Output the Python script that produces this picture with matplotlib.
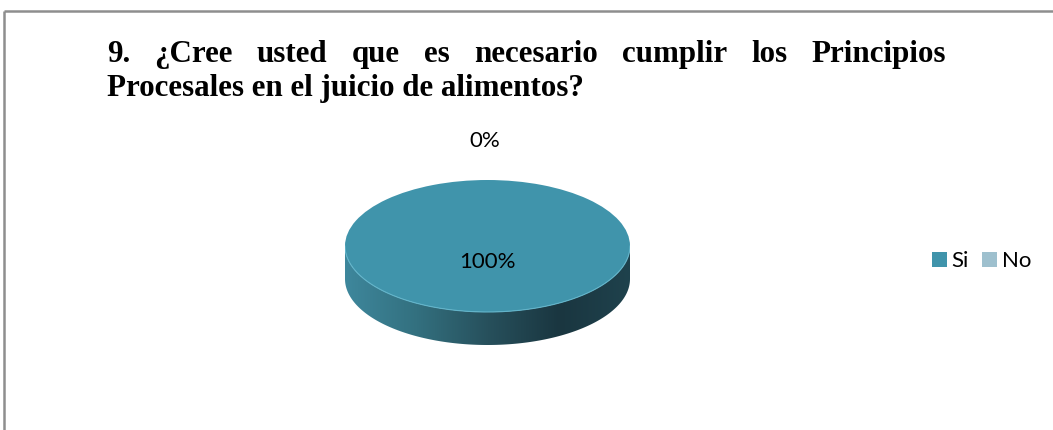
import matplotlib
matplotlib.use("Agg")
import matplotlib.pyplot as plt
from matplotlib.colors import LinearSegmentedColormap
from matplotlib.patches import Polygon
import numpy as np

# Data
labels = ["Si", "No"]
values = [100, 0]
pct_text = ["100%", "0%"]
title_lines = ["9. ¿Cree usted que es necesario cumplir los Principios",
               "Procesales en el juicio de alimentos?"]

# Styles
W, H = 1053, 430
top_color = "#4094AB"
no_color = "#9EC0CE"
border = "#8E8E8E"
side_cmap = LinearSegmentedColormap.from_list(
    "side", ["#3E879C", "#33707F", "#27505C", "#1A3640", "#1F424D"])
label_font = ["Lato", "DejaVu Sans"]

fig = plt.figure(figsize=(W / 100, H / 100), dpi=100)
ax = fig.add_axes([0, 0, 1, 1])
ax.set_xlim(0, W)
ax.set_ylim(H, 0)
ax.axis("off")

# chart frame
ax.plot([4, W], [11, 11], color=border, lw=1.8, solid_capstyle="butt")
ax.plot([4, 4], [11, H], color=border, lw=1.8, solid_capstyle="butt")

# title, first line justified
renderer = fig.canvas.get_renderer()
tkw = dict(family="Liberation Serif", weight="bold", fontsize=22.3, va="baseline")
x_left, x_right = 107, 946
words = title_lines[0].split(" ")
objs = [ax.text(0, 0, w, **tkw) for w in words]
widths = [o.get_window_extent(renderer).width for o in objs]
gap = (x_right - x_left - sum(widths)) / (len(words) - 1)
xx = x_left
for o, w in zip(objs, widths):
    o.set_position((xx, 62))
    xx += w + gap
ax.text(x_left, 96, title_lines[1], **tkw)

# pie: top face is an ellipse, side drawn below
cx0, cx1 = 345, 630
top_y, face_bottom = 180, 312
depth = 33
rx = (cx1 - cx0) / 2
ry = (face_bottom - top_y) / 2
d = depth / ry
ax_pie = fig.add_axes([cx0 / W, (H - face_bottom - depth) / H,
                       (cx1 - cx0) / W, (face_bottom - top_y + depth) / H])
wedges, _ = ax_pie.pie(values, colors=[top_color, no_color], startangle=90,
                       counterclock=False, radius=1,
                       wedgeprops=dict(linewidth=0))
ax_pie.set_aspect("auto")
ax_pie.axis("off")
for w in wedges:
    w.set_zorder(3)

t = np.linspace(np.pi, 2 * np.pi, 200)
side = np.vstack([np.column_stack([np.cos(t), np.sin(t) - d]),
                  np.column_stack([np.cos(t[::-1]), np.sin(t[::-1])])])
side_patch = Polygon(side, closed=True, facecolor="none", edgecolor="none")
ax_pie.add_patch(side_patch)
grad = np.linspace(0, 1, 256).reshape(1, -1)
img = ax_pie.imshow(grad, cmap=side_cmap, extent=(-1, 1, -1 - d, 0),
                    aspect="auto", zorder=2)
img.set_clip_path(side_patch)
ax_pie.set_xlim(-1, 1)
ax_pie.set_ylim(-1 - d, 1)
# light rim along the front edge of the top face
ax_pie.plot(np.cos(t), np.sin(t), color="#62B4CA", lw=0.8, zorder=4)

ax_pie.text(0, (246 - 262) / ry, pct_text[0], ha="center", va="center",
            fontsize=16, family=label_font, zorder=5)
ax_pie.text(-0.02, (246 - 141) / ry, pct_text[1], ha="center", va="center",
            fontsize=16, family=label_font, zorder=5)

leg = fig.legend(wedges, labels, loc="center left",
                 bbox_to_anchor=(912 / W, 1 - 261 / H), ncol=2, frameon=False,
                 handlelength=0.68, handleheight=0.68, handletextpad=0.2,
                 columnspacing=0.6, prop=dict(family=label_font, size=16))

fig.savefig("out.png", dpi=100)
